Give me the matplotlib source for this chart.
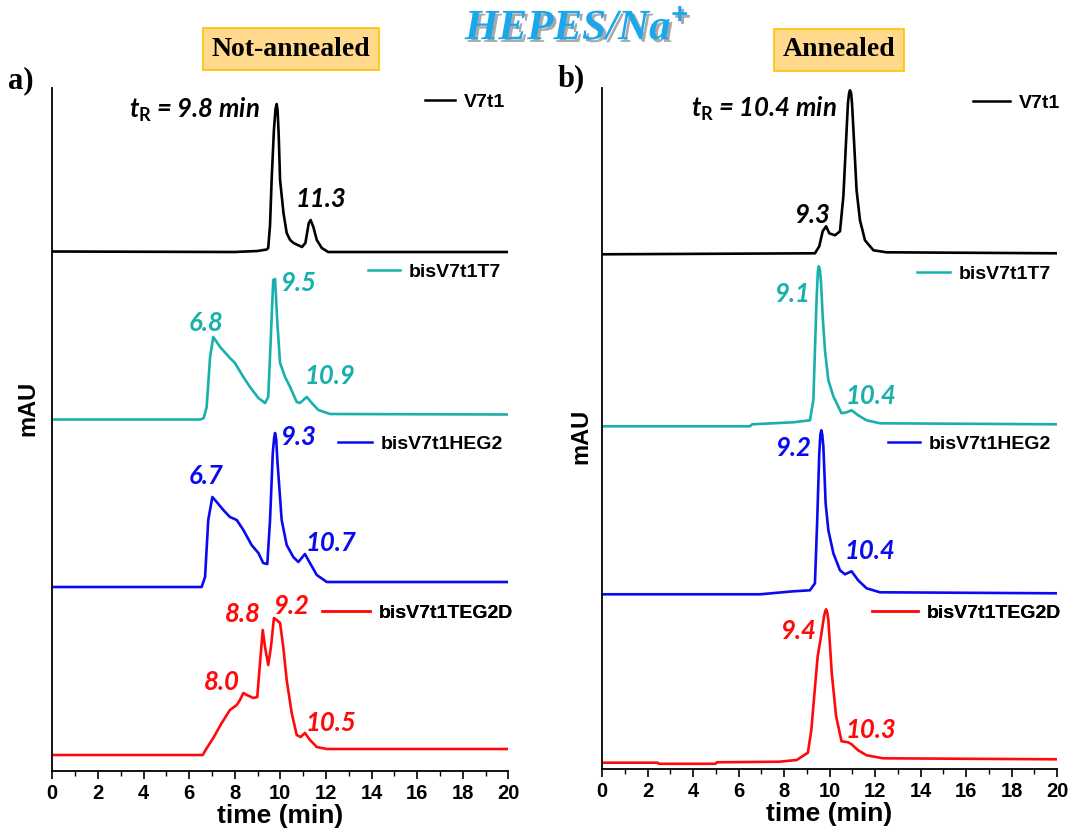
#!/usr/bin/env python3

import matplotlib
matplotlib.use('Agg')
from matplotlib import pyplot as plt
from matplotlib.lines import Line2D
import matplotlib.patheffects as pe

W, H = 1092, 830

# ---- a) not annealed (time in min, signal in mAU, stacked) ----
a_v7t1_t = [0, 8.0, 9.0, 9.4, 9.47, 9.55, 9.62, 9.72, 9.79, 9.84, 9.88, 9.93, 9.99, 10.14, 10.28,
            10.43, 10.58, 10.95, 11.1, 11.25, 11.33, 11.45, 11.6, 11.82, 12.1, 20]
a_v7t1_y = [519.5, 519, 520, 521.5, 523, 546, 591, 641, 662, 667, 661, 636, 591, 558, 538,
            531, 528, 524, 528, 548, 551, 544, 531, 523, 519, 519]

a_t7_t = [0, 6.5, 6.64, 6.77, 6.92, 7.06, 7.36, 7.79, 8.01, 8.38, 8.67, 9.04, 9.33, 9.47,
          9.58, 9.69, 9.77, 9.87, 9.99, 10.21, 10.43, 10.72, 10.86, 11.16, 11.38, 11.67, 12.18, 20]
a_t7_y = [351.5, 351.5, 353, 364, 414, 434, 424, 413, 408, 394, 384, 373, 368, 374,
          431, 491, 492, 448, 408, 394, 384, 369, 368, 374, 368, 361, 357, 356.5]

a_heg_t = [0, 6.55, 6.70, 6.84, 7.02, 7.21, 7.5, 7.79, 8.09, 8.38, 8.74, 9.04, 9.25, 9.43,
           9.55, 9.67, 9.73, 9.77, 9.82, 9.87, 10.06, 10.28, 10.57, 10.79, 11.08, 11.30,
           11.6, 12.04, 20]
a_heg_y = [184, 184, 194, 251, 274, 269, 261, 254, 251, 241, 226, 218, 208, 207,
           251, 318, 333, 338, 332, 311, 251, 226, 214, 209, 217, 208,
           196, 189, 189]

a_teg_t = [0, 6.6, 6.75, 7.06, 7.43, 7.79, 8.09, 8.23, 8.38, 8.53, 8.82, 8.99, 9.11, 9.23,
           9.33, 9.47, 9.59, 9.72, 9.84, 9.99, 10.13, 10.28, 10.5, 10.72, 10.89, 11.08,
           11.30, 11.6, 12.04, 20]
a_teg_y = [16, 16, 22, 33, 48, 61, 66, 71, 78, 76, 73, 74, 108, 141,
           124, 106, 124, 153, 151, 148, 124, 91, 58, 36, 34, 38,
           31, 24, 22, 22]

# ---- b) annealed ----
b_v7t1_t = [0, 9.36, 9.55, 9.70, 9.85, 9.99, 10.24, 10.46, 10.61, 10.73, 10.81, 10.86, 10.9,
            10.95, 10.99, 11.09, 11.19, 11.34, 11.56, 11.93, 12.51, 20]
b_v7t1_y = [515, 516, 523, 538, 543, 536, 534, 538, 573, 629, 666, 676, 679,
            676, 666, 623, 579, 549, 529, 519, 517, 516]

b_t7_t = [0, 6.5, 6.6, 8.41, 9.14, 9.29, 9.36, 9.43, 9.49, 9.53, 9.58, 9.63, 9.70, 9.80,
          9.95, 10.17, 10.53, 10.75, 10.97, 11.26, 11.63, 12.22, 20]
b_t7_y = [343, 343, 345, 347, 349, 369, 419, 469, 498, 503, 499, 486, 453, 419,
          389, 373, 356, 357, 359, 354, 349, 346, 345]

b_heg_t = [0, 6.95, 8.41, 9.14, 9.36, 9.46, 9.55, 9.60, 9.64, 9.68, 9.73, 9.83, 9.95, 10.17,
           10.46, 10.68, 10.97, 11.26, 11.63, 12.22, 20]
b_heg_y = [175, 175, 178, 179, 186, 249, 316, 335, 339, 335, 323, 266, 239, 216,
           199, 195, 198, 189, 181, 177, 176]

b_teg_t = [0, 2.45, 2.5, 4.99, 5.05, 7.8, 8.56, 9.05, 9.2, 9.35, 9.48, 9.6, 9.76, 9.81, 9.85,
           9.90, 9.95, 10.10, 10.29, 10.53, 10.82, 10.97, 11.26, 11.63, 12.36, 20]
b_teg_y = [6.6, 6.6, 5.5, 5.5, 7, 7.6, 9.3, 16.6, 39, 79, 113, 129, 153, 158, 160,
           157, 149, 96, 53, 28, 27, 25, 19, 14, 11, 10]

names = ['V7t1', 'bisV7t1T7', 'bisV7t1HEG2', 'bisV7t1TEG2D']
colors = ['black', '#19B0AC', '#0A0AF0', '#FF0A0A']

# peak labels (text, time, height)
a_peaks = [['11.3', 11.79, 572], ['6.8', 6.74, 448], ['9.5', 10.78, 488], ['10.9', 12.18, 395],
           ['6.7', 6.74, 295], ['9.3', 10.78, 334], ['10.7', 12.22, 228],
           ['8.0', 7.44, 89], ['8.8', 8.37, 157], ['9.2', 10.47, 165], ['10.5', 12.22, 48]]
a_peak_col = [0, 1, 1, 1, 2, 2, 2, 3, 3, 3, 3]
b_peaks = [['9.3', 9.23, 554], ['9.1', 8.35, 475], ['10.4', 11.82, 373],
           ['9.2', 8.40, 321], ['10.4', 11.78, 218], ['9.4', 8.62, 138], ['10.3', 11.82, 39]]
b_peak_col = [0, 1, 1, 2, 2, 3, 3]

# legend keys: line start (px), line length (px), y (px)
a_keys = [(425, 30, 102), (368, 32, 272), (338, 34, 444), (322, 48, 613)]
b_keys = [(973, 37, 103), (917, 33, 274), (888, 32, 444), (872, 46, 613)]

plt.rcParams['mathtext.fontset'] = 'custom'
plt.rcParams['mathtext.it'] = 'Lato:style=italic:weight=bold'
plt.rcParams['mathtext.rm'] = 'Lato:weight=bold'

lab_font = dict(family='Lato', weight='bold', style='italic', size=18.5)
sans_bold = dict(family='Liberation Sans', weight='bold')
key_size = 14

fig = plt.figure(figsize=(W / 100, H / 100), dpi=100)
ax_a = fig.add_axes([52.3 / W, 1 - 771 / H, 456 / W, 683 / H])
ax_b = fig.add_axes([602 / W, 1 - 769.3 / H, 455 / W, 681.3 / H])


def add_key(ax, label, color, px, length, py):
    h = Line2D([], [], color=color, lw=1.8)
    em = key_size * 100 / 72
    lg = ax.legend(handles=[h], labels=[label], loc='center left',
                   bbox_to_anchor=(px / W, 1 - py / H), bbox_transform=fig.transFigure,
                   frameon=False, borderpad=0, borderaxespad=0, handlelength=length / em,
                   handletextpad=9 / em, prop=dict(size=key_size, **sans_bold))
    ax.add_artist(lg)


def style_axes(ax, top, ylab_x, ylab_y):
    ax.set_xlim(0, 20)
    ax.set_ylim(0, top)
    ax.set_xticks(range(0, 21, 2))
    ax.set_xticks(range(0, 21, 1), minor=True)
    ax.set_yticks([])
    for s in ['top', 'right']:
        ax.spines[s].set_visible(False)
    for s in ['left', 'bottom']:
        ax.spines[s].set_linewidth(1.3)
    ax.tick_params(axis='x', which='major', direction='out', length=6, width=1.2, pad=3)
    ax.tick_params(axis='x', which='minor', direction='out', length=3.5, width=1)
    for lbl in ax.get_xticklabels():
        lbl.set_fontfamily('Liberation Sans')
        lbl.set_fontweight('bold')
        lbl.set_fontsize(14.5)
    ax.set_xlabel('time (min)', fontsize=19, labelpad=1, **sans_bold)
    ax.set_ylabel('mAU', fontsize=17, **sans_bold)
    ax.yaxis.set_label_coords(ylab_x, ylab_y)
    ax.patch.set_alpha(0)


traces_a = [(a_v7t1_t, a_v7t1_y), (a_t7_t, a_t7_y), (a_heg_t, a_heg_y), (a_teg_t, a_teg_y)]
traces_b = [(b_v7t1_t, b_v7t1_y), (b_t7_t, b_t7_y), (b_heg_t, b_heg_y), (b_teg_t, b_teg_y)]

for (t, y), c in zip(traces_a, colors):
    ax_a.plot(t, y, color=c, lw=1.9, solid_joinstyle='round')
for (t, y), c in zip(traces_b, colors):
    ax_b.plot(t, y, color=c, lw=1.9, solid_joinstyle='round')

style_axes(ax_a, 683, -0.028, (771 - 408) / 683)
style_axes(ax_b, 681.3, -0.022, (769.3 - 436) / 681.3)

for (txt, t, h), ci in zip(a_peaks, a_peak_col):
    ax_a.text(t, h, txt, color=colors[ci], ha='center', va='center', **lab_font)
for (txt, t, h), ci in zip(b_peaks, b_peak_col):
    ax_b.text(t, h, txt, color=colors[ci], ha='center', va='center', **lab_font)

ax_a.text(9.11, 661, r'$t_{\mathrm{R}}$ = 9.8 min', ha='right', va='center', **lab_font)
ax_b.text(10.32, 660, r'$t_{\mathrm{R}}$ = 10.4 min', ha='right', va='center', **lab_font)

for name, c, (px, ln, py) in zip(names, colors, a_keys):
    add_key(ax_a, name, c, px, ln, py)
for name, c, (px, ln, py) in zip(names, colors, b_keys):
    add_key(ax_b, name, c, px, ln, py)

# headers
box = dict(boxstyle='square,pad=0.3', fc='#FFD98C', ec='#FFC000', lw=1.2)
fig.text(291 / W, 1 - 49 / H, 'Not-annealed', ha='center', va='center', family='Liberation Serif',
         weight='bold', size=20, bbox=box)
fig.text(839 / W, 1 - 50 / H, 'Annealed', ha='center', va='center', family='Liberation Serif',
         weight='bold', size=20, bbox=box)
fig.text(8 / W, 1 - 81 / H, 'a)', ha='left', va='center', family='Liberation Serif',
         weight='bold', size=22)
fig.text(558 / W, 1 - 79 / H, 'b)', ha='left', va='center', family='Liberation Serif',
         weight='bold', size=22)
fig.text(577 / W, 1 - 29 / H, r'HEPES/Na$^{+}$', ha='center', va='center', family='Liberation Serif',
         weight='bold', style='italic', size=31, color='#1AA7EC',
         path_effects=[pe.withSimplePatchShadow(offset=(2, -2), shadow_rgbFace='#555555', alpha=0.5)])

plt.savefig('out.png', dpi=100)
